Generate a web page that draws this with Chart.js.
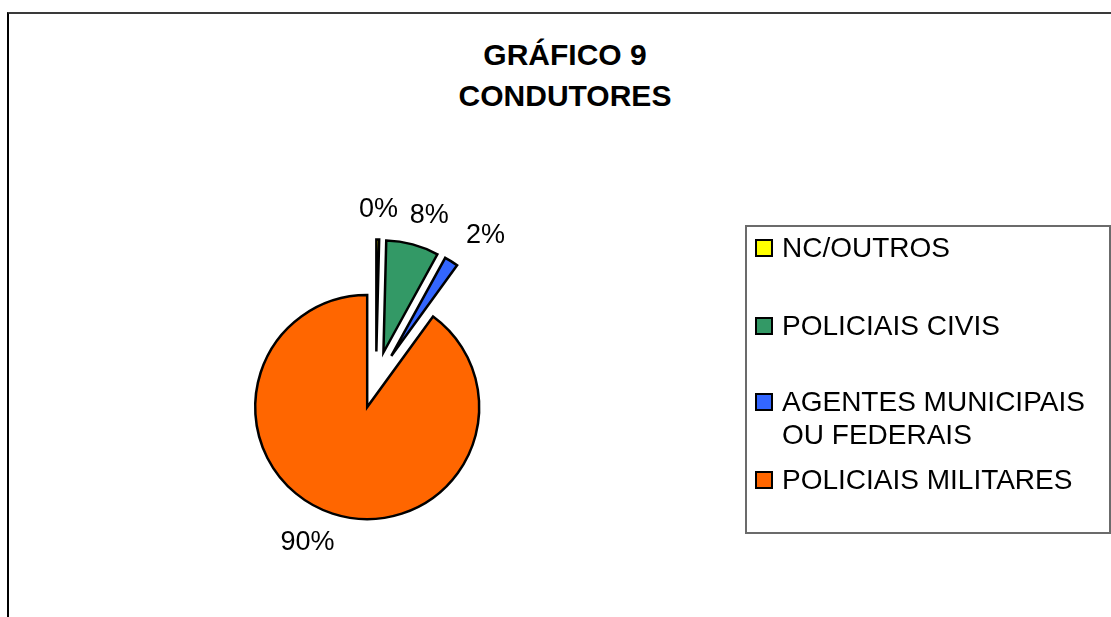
<!DOCTYPE html>
<html lang="pt-BR">
<head>
<meta charset="utf-8">
<title>Gráfico 9 - Condutores</title>
<script src="https://cdn.jsdelivr.net/npm/chart.js@4.4.1/dist/chart.umd.min.js"></script>
<style>
  html, body { margin: 0; padding: 0; background: #fff; overflow: hidden; }
  body { width: 1111px; height: 617px; position: relative; font-family: Arial, "Liberation Sans", sans-serif; }
  #moldura { position: absolute; left: 7px; top: 12px; width: 1200px; height: 700px; border-top: 2px solid #3a3a3a; border-left: 2px solid #000; }
  #titulo { position: absolute; left: 0; top: 34px; width: 1130px; text-align: center; font-weight: bold; font-size: 30px; line-height: 41px; color: #000; }
  #grafico { position: absolute; left: 0; top: 0; }
</style>
</head>
<body>
<div id="moldura"></div>
<div id="titulo">GRÁFICO 9<br>CONDUTORES</div>
<canvas id="grafico" width="1111" height="640"></canvas>

<script>
// --- DADOS ---
const categorias = ['NC/OUTROS', 'POLICIAIS CIVIS', ['AGENTES MUNICIPAIS', 'OU FEDERAIS'], 'POLICIAIS MILITARES'];
const percentuais = [0.4, 7.6, 2.0, 90.0];
const cores = ['#FFFF00', '#339966', '#3366FF', '#FF6600'];

// Configuração do "pie explodido"
const RAIO = 112;       // raio de cada fatia
const EXPLODIR = 28.5;  // deslocamento de cada fatia (px) a partir do centro
const FONTE = 'Arial, "Liberation Sans", sans-serif';

// O offset nativo do Chart.js encolhe as fatias finas; movemos o centro de cada arco
const explodir = {
    id: 'explodir',
    afterDatasetsUpdate(chart) {
        chart.getDatasetMeta(0).data.forEach(arc => {
            const ang = (arc.startAngle + arc.endAngle) / 2;
            arc.x += Math.cos(ang) * EXPLODIR;
            arc.y += Math.sin(ang) * EXPLODIR;
        });
    }
};

// Rótulos de porcentagem fora de cada fatia
const rotulos = {
    id: 'rotulos',
    afterDatasetsDraw(chart) {
        const ctx = chart.ctx;
        const dados = chart.data.datasets[0].data;
        const total = dados.reduce((a, b) => a + b, 0);
        ctx.save();
        ctx.font = '27px ' + FONTE;
        ctx.fillStyle = '#000';
        ctx.textAlign = 'center';
        ctx.textBaseline = 'middle';
        chart.getDatasetMeta(0).data.forEach((arc, i) => {
            const txt = Math.round(dados[i] / total * 100) + '%';
            const ang = (arc.startAngle + arc.endAngle) / 2;
            const dx = Math.cos(ang), dy = Math.sin(ang);
            const r = arc.outerRadius + 19;
            const meiaLarg = ctx.measureText(txt).width / 2;
            const x = arc.x + dx * r + dx * meiaLarg * 2.3;
            const y = arc.y + dy * r + dy * 11;
            ctx.fillText(txt, x, y);
        });
        ctx.restore();
    }
};

// Legenda com moldura, à direita
const legenda = {
    id: 'legenda',
    afterDraw(chart) {
        const ctx = chart.ctx;
        const linhas = [248, 326, 402, 480];
        ctx.save();
        ctx.lineWidth = 2;
        ctx.strokeStyle = '#6b6b6b';
        ctx.strokeRect(746, 226, 364, 307);

        ctx.font = '28px ' + FONTE;
        ctx.textBaseline = 'middle';
        ctx.textAlign = 'left';
        chart.data.labels.forEach((lab, i) => {
            const y = linhas[i];
            ctx.fillStyle = cores[i];
            ctx.fillRect(756, y - 8, 16, 16);
            ctx.lineWidth = 2;
            ctx.strokeStyle = '#000';
            ctx.strokeRect(756, y - 8, 16, 16);
            ctx.fillStyle = '#000';
            const partes = Array.isArray(lab) ? lab : [lab];
            partes.forEach((p, j) => ctx.fillText(p, 782, y + 1 + j * 33));
        });
        ctx.restore();
    }
};

const chart = new Chart(document.getElementById('grafico'), {
    type: 'pie',
    data: {
        labels: categorias,
        datasets: [{
            data: percentuais,
            backgroundColor: cores,
            borderColor: '#000',
            borderWidth: 2.5,
            borderJoinStyle: 'miter'
        }]
    },
    options: {
        responsive: false,
        animation: false,
        radius: RAIO,
        layout: { padding: { left: 0, right: 359, top: 120, bottom: 0 } },
        plugins: {
            legend: { display: false },
            title: { display: false },
            tooltip: { enabled: false }
        },
        events: []
    },
    plugins: [explodir, rotulos, legenda]
});
</script>
</body>
</html>
